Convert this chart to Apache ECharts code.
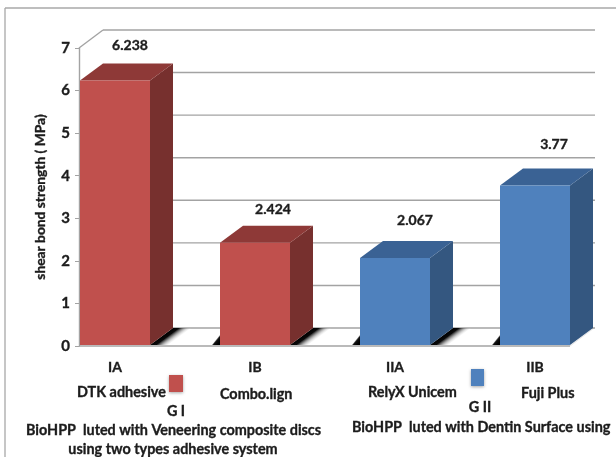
<!DOCTYPE html>
<html>
<head>
<meta charset="utf-8">
<style>
html,body{margin:0;padding:0;background:#fff;}
#c{width:616px;height:457px;filter:blur(0.35px);}
</style>
<script src="https://cdn.jsdelivr.net/npm/echarts@6/dist/echarts.min.js"></script>
</head>
<body>
<div id="c"></div>
<script>
const categories = ['IA', 'IB', 'IIA', 'IIB'];
const values = [6.238, 2.424, 2.067, 3.77];
const groups = ['G I', 'G I', 'G II', 'G II'];
const yTicks = [0, 1, 2, 3, 4, 5, 6, 7];
const yTitle = 'shear bond strength ( MPa)';

const palette = {
  'G I':  { front: '#C0504D', top: '#8E3937', side: '#77302E' },
  'G II': { front: '#4F81BD', top: '#3A6294', side: '#345780' }
};
const FONT = 'Lato, "Open Sans", sans-serif';
const DX = 23, DY = 17, WX = 24, WY = 18, HALF = 35;
const TEXT = '#1c1c1c';
const HEAVY = { textBorderColor: TEXT, textBorderWidth: 0.35 };

const chart = echarts.init(document.getElementById('c'), null, { renderer: 'canvas' });

function wall(params, api) {
  const v = api.value(1);
  const y = api.coord([0, v])[1];
  const c0 = api.coord([0, 0])[0];
  const c3 = api.coord([3, 0])[0];
  const x0 = c0 - HALF - 1, x1 = c3 + HALF;
  const lineStyle = { stroke: '#a3a3a3', lineWidth: 1.4, fill: 'none' };
  const kids = [];
  if (v === 0) {
    kids.push({ type: 'line', shape: { x1: x0, y1: y, x2: x1, y2: y }, style: { stroke: '#a3a3a3', lineWidth: 1.6 } });
    kids.push({ type: 'line', shape: { x1: x1, y1: y, x2: x1 + WX, y2: y - WY }, style: { stroke: '#e4e4e4', lineWidth: 1 } });
  }
  kids.push({ type: 'line', shape: { x1: x0 + WX, y1: y - WY, x2: x1 + WX + 1, y2: y - WY }, style: lineStyle });
  if (v === yTicks[yTicks.length - 1]) {
    kids.push({ type: 'line', shape: { x1: x0, y1: y, x2: x0 + WX, y2: y - WY }, style: lineStyle });
  }
  return { type: 'group', children: kids };
}

function shadow(params, api) {
  const i = api.value(0);
  if (i >= categories.length - 1) return null;
  const p = api.coord([i, 0]);
  const next = api.coord([i + 1, 0]);
  const x = p[0] + HALF, y = p[1] - 1;
  const nx = next[0] - HALF;
  const LG = echarts.graphic.LinearGradient;
  const mx = x + DX / 2, my = y - DY / 2;
  return {
    type: 'group',
    children: [
      { type: 'polygon',
        shape: { points: [[x, y], [x + DX, y - DY], [x + DX + 18, y - DY], [x + 18, y]] },
        style: { fill: new LG(mx, my, mx + 7, my + 9.5, [
          { offset: 0, color: '#000' }, { offset: 0.3, color: '#0a0a0a' }, { offset: 1, color: 'rgba(255,255,255,0)' }
        ], true) } },
      { type: 'polygon',
        shape: { points: [[nx - 8, y], [nx, y - 10], [nx, y]] },
        style: { fill: new LG(nx - 7, y - 7, nx - 1, y - 2, [
          { offset: 0, color: 'rgba(255,255,255,0)' }, { offset: 0.6, color: '#111' }, { offset: 1, color: '#000' }
        ], true) } }
    ]
  };
}

function bar3d(params, api) {
  const i = api.value(0), v = api.value(1);
  const top = api.coord([i, v]);
  const base = api.coord([i, 0]);
  const l = top[0] - HALF, r = top[0] + HALF, t = top[1], b = base[1] - 1;
  const c = palette[groups[i]];
  const nudgeX = [15, 18, 20, 19][i], nudgeY = [18, 16, 21, 24][i];
  return {
    type: 'group',
    children: [
      { type: 'polygon', shape: { points: [[r, t], [r + DX, t - DY], [r + DX, b - DY], [r, b]] }, style: { fill: c.side } },
      { type: 'polygon', shape: { points: [[l, t], [l + DX, t - DY], [r + DX, t - DY], [r, t]] }, style: { fill: c.top } },
      { type: 'rect', shape: { x: l, y: t, width: r - l, height: b - t }, style: { fill: c.front } },
      { type: 'text', x: top[0] + nudgeX, y: t - DY - nudgeY,
        style: { text: String(v), font: 'bold 14px ' + FONT, fill: TEXT, stroke: TEXT, lineWidth: 0.35, align: 'center', verticalAlign: 'middle' } }
    ]
  };
}

function note(text, x, y, align) {
  return { type: 'text', x: x, y: y,
    style: { text: text, font: 'bold 14.4px ' + FONT, fill: TEXT, stroke: TEXT, lineWidth: 0.35, align: align || 'left', verticalAlign: 'middle' } };
}
function swatch(x, y, w, h, fill) {
  return { type: 'rect', shape: { x: x, y: y, width: w, height: h },
    style: { fill: fill, shadowBlur: 3, shadowColor: 'rgba(0,0,0,0.35)', shadowOffsetY: 1 } };
}

chart.setOption({
  animation: false,
  backgroundColor: '#fff',
  grid: { left: 45, width: 560, top: 48, bottom: 111 },
  xAxis: {
    type: 'category', data: categories,
    axisLine: { show: false }, axisTick: { show: false },
    axisLabel: Object.assign({ color: TEXT, fontFamily: FONT, fontWeight: 'bold', fontSize: 14, margin: 14 }, HEAVY)
  },
  yAxis: {
    type: 'value', min: 0, max: 7, interval: 1, offset: -34,
    name: yTitle, nameLocation: 'middle', nameGap: 31, nameRotate: 90,
    nameTextStyle: Object.assign({ color: TEXT, fontFamily: FONT, fontWeight: 'bold', fontSize: 13.8 }, HEAVY),
    axisLine: { show: true, lineStyle: { color: '#a3a3a3', width: 1.4 } },
    axisTick: { show: true, length: 4, lineStyle: { color: '#a3a3a3', width: 1 } },
    splitLine: { show: false },
    axisLabel: Object.assign({ color: TEXT, fontFamily: FONT, fontWeight: 'bold', fontSize: 15, margin: 9 }, HEAVY)
  },
  series: [
    { type: 'custom', z: 1, clip: false, renderItem: wall, data: yTicks.map(t => [0, t]) },
    { type: 'custom', z: 2, clip: false, renderItem: shadow, data: values.map((v, i) => [i, v]) },
    { type: 'custom', z: 3, clip: false, renderItem: bar3d, data: values.map((v, i) => [i, v]) }
  ],
  graphic: [
    { type: 'line', shape: { x1: 5, y1: 8, x2: 616, y2: 8 }, style: { stroke: '#a8a8a8', lineWidth: 1.3 } },
    { type: 'line', shape: { x1: 5, y1: 8, x2: 5, y2: 457 }, style: { stroke: '#a8a8a8', lineWidth: 1.3 } },
    note('DTK adhesive', 77, 392),
    swatch(169, 375, 14, 17, palette['G I'].front),
    note('Combo.lign', 220, 394),
    note('G I', 176, 411, 'center'),
    note('BioHPP  luted with Veneering composite discs', 26, 430),
    note('using two types adhesive system', 173, 449, 'center'),
    note('RelyX Unicem', 368, 392),
    swatch(471, 369, 13, 17, palette['G II'].front),
    note('Fuji Plus', 521, 393),
    note('G II', 480, 407, 'center'),
    note('BioHPP  luted with Dentin Surface using', 352, 427)
  ]
});
</script>
</body>
</html>
